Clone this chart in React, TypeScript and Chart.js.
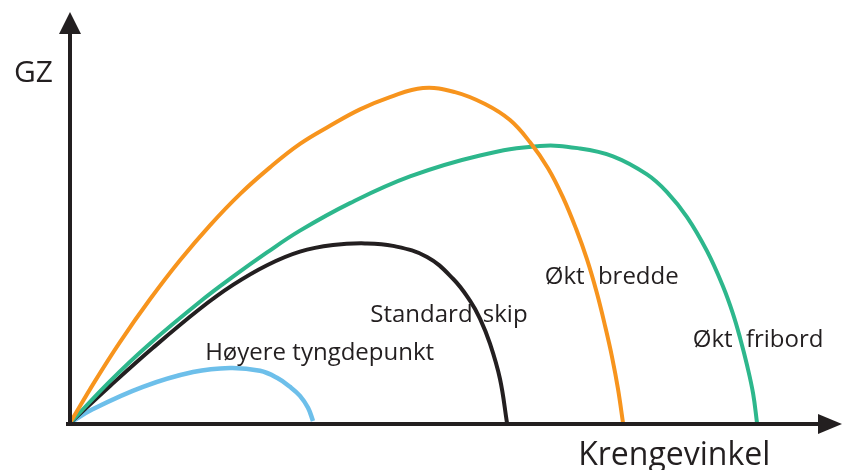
import React, { useEffect, useRef } from "react";
import { Chart, registerables } from "chart.js";

Chart.register(...registerables);

// Heel angle (Krengevinkel, degrees) and righting arm (GZ, m)
const ANGLE_MAX = 90;
const GZ_MAX = 1.0;

const breddeAngle = [0, 2.92, 5.84, 9.35, 12.86, 16.36, 19.87, 23.38, 26.88, 30.39, 33.9, 37.4, 41.26, 45.0, 48.51, 51.43, 53.77, 55.87, 57.62, 59.14, 60.43, 61.6, 62.53, 63.35, 64.05, 64.64];
const breddeGZ = [0, 0.102, 0.197, 0.301, 0.396, 0.481, 0.557, 0.622, 0.679, 0.723, 0.763, 0.793, 0.815, 0.805, 0.776, 0.737, 0.683, 0.62, 0.549, 0.473, 0.398, 0.315, 0.237, 0.161, 0.083, 0];

const fribordAngle = [0, 4.68, 9.0, 15.19, 19.05, 23.03, 26.88, 32.73, 39.74, 47.92, 54.94, 59.61, 63.47, 67.44, 69.78, 72.12, 74.46, 76.33, 77.5, 78.32, 79.13, 79.84, 80.3];
const fribordGZ = [0, 0.102, 0.187, 0.295, 0.356, 0.415, 0.468, 0.535, 0.6, 0.651, 0.674, 0.668, 0.649, 0.605, 0.562, 0.501, 0.418, 0.332, 0.265, 0.207, 0.141, 0.072, 0];

const standardAngle = [0, 4.68, 9.7, 15.19, 19.05, 23.03, 26.88, 30.74, 34.48, 37.75, 41.73, 44.77, 46.75, 47.92, 49.09, 50.26, 51.08];
const standardGZ = [0, 0.09, 0.183, 0.278, 0.336, 0.384, 0.417, 0.433, 0.437, 0.431, 0.404, 0.351, 0.298, 0.254, 0.193, 0.107, 0];

const tyngdeAngle = [0, 2.69, 8.53, 14.38, 18.7, 22.21, 24.19, 25.71, 26.88, 27.82, 28.4];
const tyngdeGZ = [0, 0.034, 0.088, 0.124, 0.134, 0.127, 0.11, 0.088, 0.066, 0.037, 0.005];

// Curve labels (text, anchor angle, anchor GZ, word spacing)
const labelText = ["Høyere tyngdepunkt", "Standard skip", "Økt bredde", "Økt fribord"];
const labelAngle = [15.8, 35.1, 55.5, 72.8];
const labelGZ = [0.153, 0.246, 0.338, 0.185];
const labelGap = [0, 4, 7, 7];

const AXIS_Y_TITLE = "GZ";
const AXIS_X_TITLE = "Krengevinkel";

const INK = "#231f20";
const ORANGE = "#f7941d";
const GREEN = "#2db78c";
const BLACK = "#231f20";
const BLUE = "#6dbfea";
const FONT = '"Open Sans", "Noto Sans", sans-serif';

function pts(a: number[], b: number[]) {
  return a.map((x, i) => ({ x, y: b[i] }));
}

const overlay = {
  id: "overlay",
  afterDatasetsDraw(chart: any) {
    const { ctx } = chart;
    const xs = chart.scales.x;
    const ys = chart.scales.y;
    const x0 = xs.getPixelForValue(0);
    const y0 = ys.getPixelForValue(0);
    const xEnd = xs.getPixelForValue(ANGLE_MAX) + 2;
    const yEnd = ys.getPixelForValue(GZ_MAX);
    ctx.save();
    ctx.strokeStyle = INK;
    ctx.fillStyle = INK;
    ctx.lineWidth = 4;
    ctx.lineCap = "butt";
    // y axis
    ctx.beginPath();
    ctx.moveTo(x0, y0 + 2);
    ctx.lineTo(x0, yEnd + 20);
    ctx.stroke();
    ctx.beginPath();
    ctx.moveTo(x0, yEnd);
    ctx.lineTo(x0 - 11, yEnd + 22);
    ctx.lineTo(x0 + 11, yEnd + 22);
    ctx.closePath();
    ctx.fill();
    // x axis
    ctx.beginPath();
    ctx.moveTo(x0 - 4, y0 + 1);
    ctx.lineTo(xEnd - 22, y0 + 1);
    ctx.stroke();
    ctx.beginPath();
    ctx.moveTo(xEnd, y0 + 1);
    ctx.lineTo(xEnd - 24, y0 + 1 - 10);
    ctx.lineTo(xEnd - 24, y0 + 1 + 10);
    ctx.closePath();
    ctx.fill();

    // axis titles
    ctx.textBaseline = "alphabetic";
    ctx.font = `30px ${FONT}`;
    ctx.textAlign = "right";
    ctx.fillText(AXIS_Y_TITLE, x0 - 17, ys.getPixelForValue(0.83));
    ctx.font = `32px ${FONT}`;
    ctx.textAlign = "left";
    ctx.fillText(AXIS_X_TITLE, xs.getPixelForValue(59.4), y0 + 42);

    // curve labels
    ctx.font = `24px ${FONT}`;
    labelText.forEach((t, i) => {
      (ctx as any).wordSpacing = `${labelGap[i]}px`;
      ctx.fillText(t, xs.getPixelForValue(labelAngle[i]), ys.getPixelForValue(labelGZ[i]));
    });
    (ctx as any).wordSpacing = "0px";
    ctx.restore();
  },
};

export default function App() {
  const ref = useRef<HTMLCanvasElement | null>(null);
  useEffect(() => {
    document.body.style.margin = "0";
    const canvas = ref.current;
    if (!canvas) return;
    const common = {
      showLine: true,
      pointRadius: 0,
      pointHoverRadius: 0,
      fill: false,
      tension: 0.4,
      borderCapStyle: "butt" as const,
      borderJoinStyle: "round" as const,
    };
    const chart = new Chart(canvas, {
      type: "scatter",
      data: {
        datasets: [
          { label: "Økt bredde", data: pts(breddeAngle, breddeGZ), borderColor: ORANGE, borderWidth: 4, ...common },
          { label: "Økt fribord", data: pts(fribordAngle, fribordGZ), borderColor: GREEN, borderWidth: 4, ...common },
          { label: "Standard skip", data: pts(standardAngle, standardGZ), borderColor: BLACK, borderWidth: 4, ...common },
          { label: "Høyere tyngdepunkt", data: pts(tyngdeAngle, tyngdeGZ), borderColor: BLUE, borderWidth: 4.5, ...common },
        ],
      },
      options: {
        responsive: false,
        animation: false,
        devicePixelRatio: 1,
        layout: { padding: { left: 70, right: 5, top: 12, bottom: 47 } },
        scales: {
          x: { type: "linear", min: 0, max: ANGLE_MAX, display: false },
          y: { type: "linear", min: 0, max: GZ_MAX, display: false },
        },
        plugins: {
          legend: { display: false },
          tooltip: { enabled: false },
        },
        events: [],
      },
      plugins: [overlay],
    });
    (document as any).fonts?.ready?.then(() => chart.draw());
    return () => chart.destroy();
  }, []);
  return (
    <div style={{ position: "absolute", left: 0, top: 0, width: 845, height: 470, background: "#fff" }}>
      <canvas ref={ref} width={845} height={470} style={{ width: 845, height: 470, display: "block" }} />
    </div>
  );
}
